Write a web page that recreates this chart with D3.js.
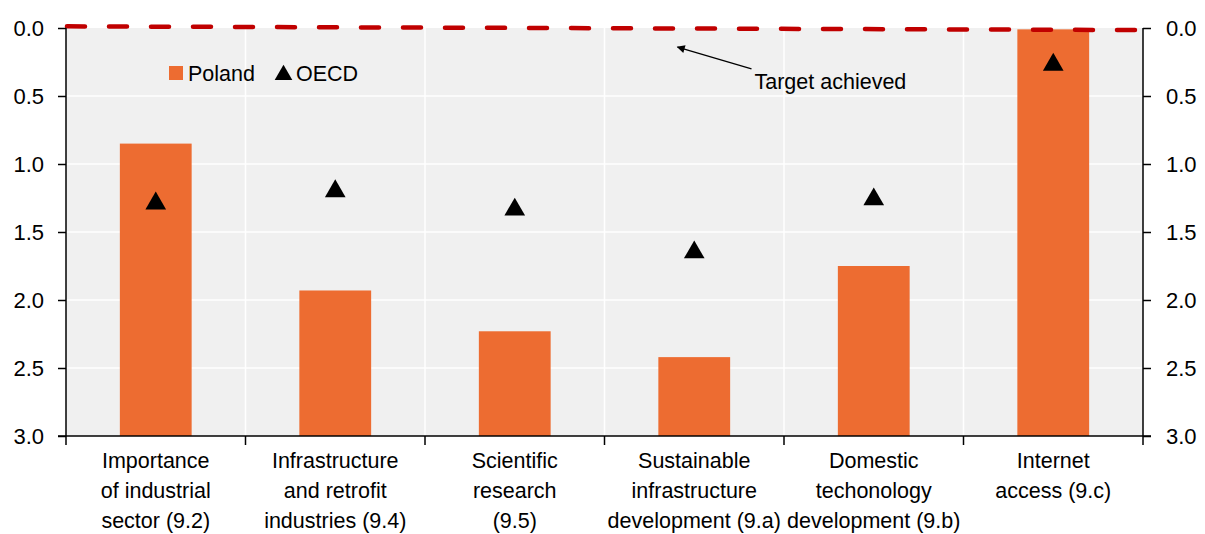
<!DOCTYPE html>
<html>
<head>
<meta charset="utf-8">
<script src="https://cdn.jsdelivr.net/npm/d3@7"></script>
<style>
  body { margin: 0; background: #fff; }
  svg text { font-family: "Liberation Sans", Arial, sans-serif; fill: #000; }
</style>
</head>
<body>
<div id="chart"></div>
<script>
// data
var categories = [
    ["Importance", "of industrial", "sector (9.2)"],
    ["Infrastructure", "and retrofit", "industries (9.4)"],
    ["Scientific", "research", "(9.5)"],
    ["Sustainable", "infrastructure", "development (9.a)"],
    ["Domestic", "techonology", "development (9.b)"],
    ["Internet", "access (9.c)"]
];
var poland = [0.85, 1.93, 2.23, 2.42, 1.75, 0.01];
var oecd = [1.29, 1.20, 1.335, 1.65, 1.26, 0.27];
var yTicks = [0.0, 0.5, 1.0, 1.5, 2.0, 2.5, 3.0];
var targetLine = [-0.012, 0.015]; // red dashed line, drawn slightly tilted like the original
var seriesNames = ["Poland", "OECD"];

var width = 1205, height = 534;
var margin = { top: 28, right: 62, bottom: 98, left: 66 };
var innerW = width - margin.left - margin.right;
var innerH = height - margin.top - margin.bottom;

var orange = "#ed6c31";

var svg = d3.select("#chart")
    .append("svg")
    .attr("width", width)
    .attr("height", height);

var g = svg.append("g")
    .attr("transform", "translate(" + margin.left + "," + margin.top + ")");

var keys = categories.map(function (d, i) { return i; });

// one scale for category slots, another for the bars inside them
var x0 = d3.scaleBand().domain(keys).range([0, innerW]).padding(0);
var x = d3.scaleBand().domain(keys).range([0, innerW]).paddingInner(0.6).paddingOuter(0.3);
var y = d3.scaleLinear().domain([0, 3]).range([0, innerH]);

// background
g.append("rect")
    .attr("width", innerW)
    .attr("height", innerH)
    .attr("fill", "#f0f0f0");

// gridlines
g.selectAll(".hgrid")
    .data(yTicks.filter(function (t) { return t > 0 && t < 3; }))
    .enter()
    .append("line")
    .attr("x1", 0).attr("x2", innerW)
    .attr("y1", function (d) { return y(d); })
    .attr("y2", function (d) { return y(d); })
    .attr("stroke", "#fff")
    .attr("stroke-width", 1.5);

g.selectAll(".vgrid")
    .data(keys.slice(1))
    .enter()
    .append("line")
    .attr("x1", function (d) { return x0(d); })
    .attr("x2", function (d) { return x0(d); })
    .attr("y1", 0).attr("y2", innerH)
    .attr("stroke", "#fff")
    .attr("stroke-width", 1.5);

// bars, hanging from the bottom (axis is reversed: 0 on top)
g.selectAll(".bar")
    .data(poland)
    .enter()
    .append("rect")
    .attr("class", "bar")
    .attr("x", function (d, i) { return x(i); })
    .attr("width", x.bandwidth())
    .attr("y", function (d) { return y(d); })
    .attr("height", function (d) { return y(3) - y(d); })
    .attr("fill", orange);

// OECD triangles
var tri = d3.symbol().type(d3.symbolTriangle).size(185);
g.selectAll(".oecd")
    .data(oecd)
    .enter()
    .append("path")
    .attr("d", tri)
    .attr("transform", function (d, i) {
        return "translate(" + (x0(i) + x0.bandwidth() / 2) + "," + y(d) + ")";
    })
    .attr("fill", "#000");

// target line
g.append("line")
    .attr("x1", 1)
    .attr("x2", innerW - 6)
    .attr("y1", y(targetLine[0]))
    .attr("y2", y(targetLine[1]))
    .attr("stroke", "#c00000")
    .attr("stroke-width", 4.5)
    .attr("stroke-linecap", "round")
    .attr("stroke-dasharray", "18 24");

// axes
var fmt = d3.format(".1f");
var leftAxis = g.append("g")
    .call(d3.axisLeft(y).tickValues(yTicks).tickFormat(fmt).tickSize(8).tickPadding(14));
var rightAxis = g.append("g")
    .attr("transform", "translate(" + innerW + ",0)")
    .call(d3.axisRight(y).tickValues(yTicks).tickFormat(fmt).tickSize(8).tickPadding(15));

var bottomAxis = g.append("g")
    .attr("transform", "translate(0," + innerH + ")");
bottomAxis.append("line")
    .attr("x1", -8).attr("x2", innerW + 8)
    .attr("stroke", "#000").attr("stroke-width", 1.5);
bottomAxis.selectAll(".xtick")
    .data(d3.range(categories.length + 1))
    .enter()
    .append("line")
    .attr("x1", function (d) { return d * x0.step(); })
    .attr("x2", function (d) { return d * x0.step(); })
    .attr("y1", 0).attr("y2", 9)
    .attr("stroke", "#000").attr("stroke-width", 1.5);

[leftAxis, rightAxis].forEach(function (a) {
    a.select(".domain").attr("stroke-width", 1.5).attr("d", function () {
        return "M0,0V" + innerH;
    });
    a.selectAll(".tick line").attr("stroke-width", 1.5);
    a.selectAll("text")
        .style("font-family", "'Liberation Sans', Arial, sans-serif")
        .attr("font-size", 22)
        .attr("fill", "#000");
    a.attr("font-size", 22);
});

// category labels
var labels = bottomAxis.selectAll(".cat")
    .data(categories)
    .enter()
    .append("text")
    .attr("text-anchor", "middle")
    .attr("font-size", 21.5)
    .attr("x", function (d, i) { return x0(i) + x0.bandwidth() / 2; })
    .attr("y", 32);
labels.selectAll("tspan")
    .data(function (d) { return d; })
    .enter()
    .append("tspan")
    .attr("x", function () { return d3.select(this.parentNode).attr("x"); })
    .attr("dy", function (d, i) { return i === 0 ? 0 : 30; })
    .text(function (d) { return d; });

// legend
var legend = g.append("g")
    .attr("transform", "translate(" + (x0(0) + 103) + ",45)");
legend.append("rect")
    .attr("x", 0).attr("y", -7)
    .attr("width", 14).attr("height", 14)
    .attr("fill", orange);
legend.append("text")
    .attr("x", 19).attr("y", 8)
    .attr("font-size", 21.5)
    .text(seriesNames[0]);
legend.append("path")
    .attr("d", d3.symbol().type(d3.symbolTriangle).size(135))
    .attr("transform", "translate(114.5,2)")
    .attr("fill", "#000");
legend.append("text")
    .attr("x", 127).attr("y", 8)
    .attr("font-size", 21.5)
    .text(seriesNames[1]);

// annotation
var ann = g.append("g");
svg.append("defs").append("marker")
    .attr("id", "arrow")
    .attr("viewBox", "0 0 10 10")
    .attr("refX", 9).attr("refY", 5)
    .attr("markerWidth", 10).attr("markerHeight", 8)
    .attr("markerUnits", "userSpaceOnUse")
    .attr("orient", "auto")
    .append("path")
    .attr("d", "M0,0L10,5L0,10Z")
    .attr("fill", "#000");
ann.append("line")
    .attr("x1", x0(3) + 147).attr("y1", y(0.3))
    .attr("x2", x0(3) + 73).attr("y2", y(0.14))
    .attr("stroke", "#000")
    .attr("stroke-width", 1.3)
    .attr("marker-end", "url(#arrow)");
ann.append("text")
    .attr("x", x0(3) + 150)
    .attr("y", y(0.45))
    .attr("font-size", 21.5)
    .text("Target achieved");
</script>
</body>
</html>
